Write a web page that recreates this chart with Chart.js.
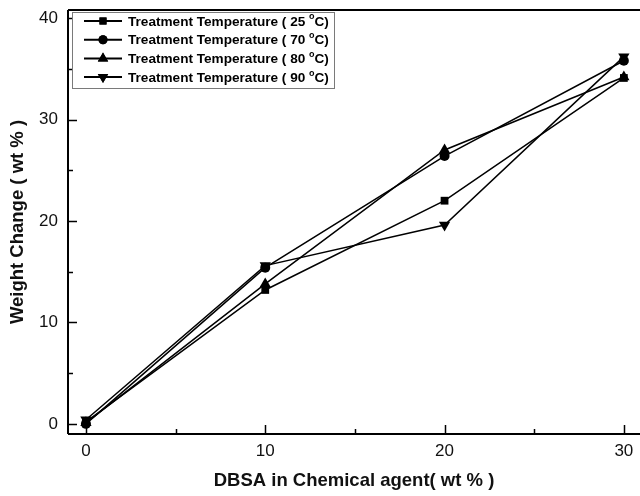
<!DOCTYPE html>
<html>
<head>
<meta charset="utf-8">
<script src="https://cdn.jsdelivr.net/npm/chart.js@4/dist/chart.umd.min.js"></script>
<style>
html,body{margin:0;padding:0;background:#fff;}
#wrap{width:640px;height:496px;position:relative;}
</style>
</head>
<body>
<div id="wrap"><canvas id="c" width="640" height="496"></canvas></div>
<script>
// ---- data ----
const dbsa = [0, 10, 20, 30];
const labels = ["Treatment Temperature ( 25 °C)", "Treatment Temperature ( 70 °C)", "Treatment Temperature ( 80 °C)", "Treatment Temperature ( 90 °C)"];
const t25 = [0.2, 13.2, 22.0, 34.1];
const t70 = [0.0, 15.4, 26.4, 35.8];
const t80 = [0.1, 13.8, 27.0, 34.2];
const t90 = [0.4, 15.6, 19.6, 36.2];
const xTicks = [0, 10, 20, 30];
const xMinor = [5, 15, 25];
const yTicks = [0, 10, 20, 30, 40];
const yMinor = [5, 15, 25, 35];
const xTitle = "DBSA in Chemical agent( wt % )";
const yTitle = "Weight Change ( wt % )";

const series = [t25, t70, t80, t90];
const styles = [
  {pointStyle: 'rect', rotation: 0, radius: 5.5},
  {pointStyle: 'circle', rotation: 0, radius: 5},
  {pointStyle: 'triangle', rotation: 0, radius: 6.5},
  {pointStyle: 'triangle', rotation: 180, radius: 6.5}
];
const datasets = series.map((s, i) => ({
  label: labels[i],
  data: s.map((v, j) => ({x: dbsa[j], y: v})),
  borderColor: '#000',
  backgroundColor: '#000',
  borderWidth: 1.5,
  pointStyle: styles[i].pointStyle,
  rotation: styles[i].rotation,
  pointRadius: styles[i].radius,
  pointBorderWidth: 0,
  pointBackgroundColor: '#000',
  tension: 0
}));

const FONT = '"Liberation Sans", Arial, sans-serif';

const frameTicks = {
  id: 'frameTicks',
  afterDatasetsDraw(chart) {
    const ctx = chart.ctx, a = chart.chartArea;
    const xs = chart.scales.x, ys = chart.scales.y;
    ctx.save();
    ctx.strokeStyle = '#000';
    ctx.lineWidth = 2;
    ctx.beginPath();
    ctx.moveTo(a.left, a.top); ctx.lineTo(a.right, a.top);
    ctx.moveTo(a.left, a.top); ctx.lineTo(a.left, a.bottom);
    ctx.moveTo(a.left, a.bottom); ctx.lineTo(a.right, a.bottom);
    ctx.stroke();
    ctx.lineWidth = 1.5;
    ctx.beginPath();
    xTicks.forEach(v => { const p = Math.round(xs.getPixelForValue(v)) + 0.5; ctx.moveTo(p, a.bottom); ctx.lineTo(p, a.bottom - 9); });
    xMinor.forEach(v => { const p = Math.round(xs.getPixelForValue(v)) + 0.5; ctx.moveTo(p, a.bottom); ctx.lineTo(p, a.bottom - 5); });
    yTicks.forEach(v => { const p = Math.round(ys.getPixelForValue(v)) + 0.5; ctx.moveTo(a.left, p); ctx.lineTo(a.left + 9, p); });
    yMinor.forEach(v => { const p = Math.round(ys.getPixelForValue(v)) + 0.5; ctx.moveTo(a.left, p); ctx.lineTo(a.left + 5, p); });
    ctx.stroke();
    ctx.restore();
  }
};

const boxLegend = {
  id: 'boxLegend',
  afterDraw(chart) {
    const ctx = chart.ctx, a = chart.chartArea;
    const bx = a.left + 4, by = a.top + 2, bw = 262, bh = 76;
    ctx.save();
    ctx.fillStyle = '#fff';
    ctx.fillRect(bx, by, bw, bh);
    ctx.strokeStyle = '#7a7a7a';
    ctx.lineWidth = 1;
    ctx.strokeRect(bx + 0.5, by + 0.5, bw, bh);
    chart.data.datasets.forEach((ds, i) => {
      const cy = by + 9 + i * 18.7;
      ctx.strokeStyle = '#000';
      ctx.lineWidth = 2;
      ctx.beginPath();
      ctx.moveTo(bx + 12, cy); ctx.lineTo(bx + 50, cy);
      ctx.stroke();
      ctx.fillStyle = '#000';
      Chart.helpers.drawPoint(ctx, {pointStyle: ds.pointStyle, rotation: ds.rotation, radius: ds.pointRadius - 0.5, borderWidth: 0}, bx + 31, cy);
      ctx.fill();
      const parts = ds.label.split('°');
      ctx.font = 'bold 13.6px ' + FONT;
      ctx.textBaseline = 'middle';
      ctx.textAlign = 'left';
      let tx = bx + 56;
      ctx.fillText(parts[0], tx, cy + 1);
      tx += ctx.measureText(parts[0]).width;
      ctx.font = 'bold 9px ' + FONT;
      ctx.fillText('o', tx, cy - 4);
      tx += ctx.measureText('o').width;
      ctx.font = 'bold 13.6px ' + FONT;
      ctx.fillText(parts[1], tx, cy + 1);
    });
    ctx.restore();
  }
};

new Chart(document.getElementById('c'), {
  type: 'line',
  data: {datasets},
  plugins: [frameTicks, boxLegend],
  options: {
    responsive: false,
    animation: false,
    devicePixelRatio: 1,
    layout: {autoPadding: false, padding: {top: 10, right: 0, left: 0, bottom: 0}},
    plugins: {legend: {display: false}, tooltip: {enabled: false}},
    scales: {
      x: {
        type: 'linear', min: -1, max: 30.9,
        afterBuildTicks: s => { s.ticks = xTicks.map(v => ({value: v})); },
        afterFit: s => { s.height = 62; s.paddingLeft = 0; s.paddingRight = 0; },
        grid: {display: false, drawTicks: false},
        border: {display: false},
        ticks: {color: '#111', font: {family: FONT, size: 17}, padding: 7, maxRotation: 0},
        title: {display: true, text: xTitle, color: '#111', font: {family: FONT, size: 18.5, weight: 'bold'}, padding: {top: 4, bottom: 4}}
      },
      y: {
        type: 'linear', min: -1, max: 40.8,
        afterBuildTicks: s => { s.ticks = yTicks.map(v => ({value: v})); },
        afterFit: s => { s.width = 68; s.paddingTop = 0; s.paddingBottom = 0; },
        grid: {display: false, drawTicks: false},
        border: {display: false},
        ticks: {color: '#111', font: {family: FONT, size: 17}, padding: 10},
        title: {display: true, text: yTitle, color: '#111', font: {family: FONT, size: 18.5, weight: 'bold'}, padding: {top: 7, bottom: 0}}
      }
    }
  }
});
</script>
</body>
</html>
